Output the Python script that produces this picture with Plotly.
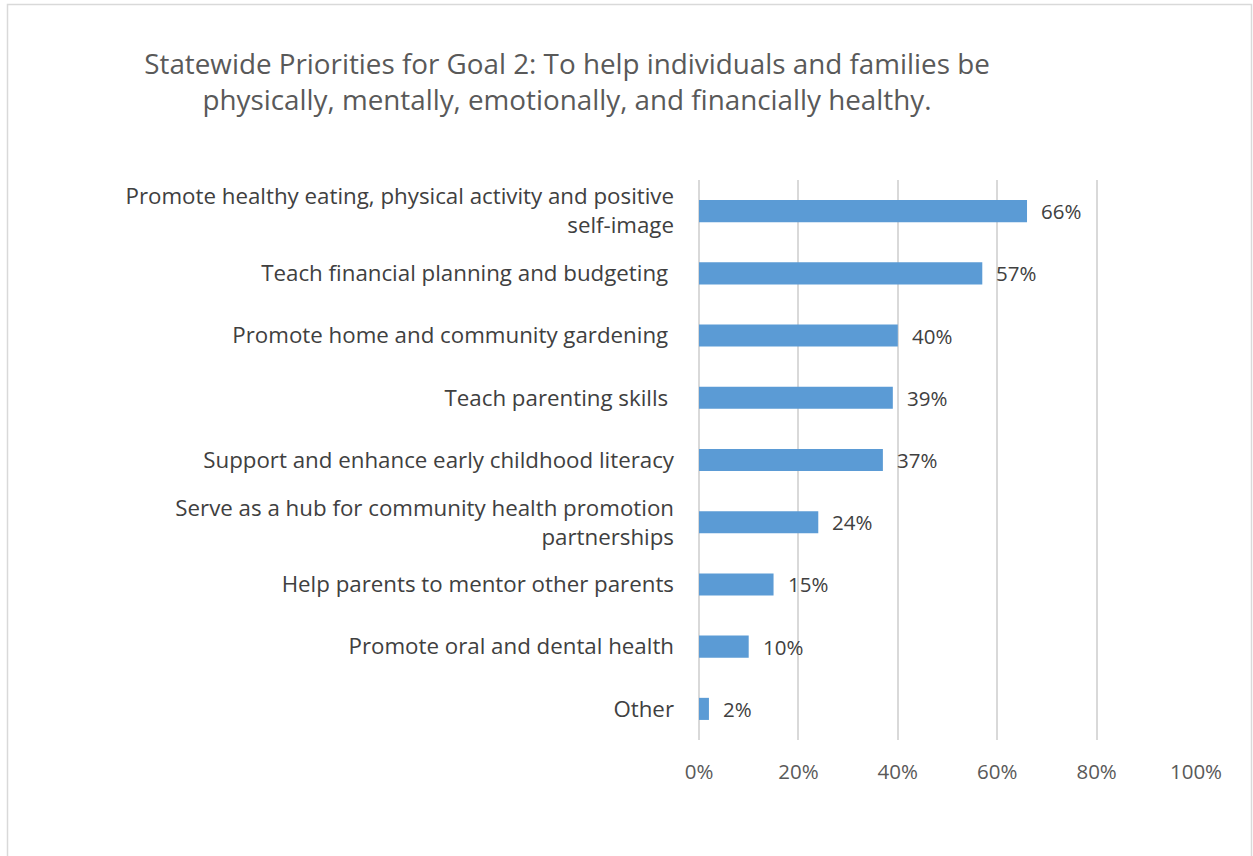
import plotly.graph_objects as go

# Survey responses, top to bottom
categories = [
    "Promote healthy eating, physical activity and positive<br>self-image",
    "Teach financial planning and budgeting\u00a0",
    "Promote home and community gardening\u00a0",
    "Teach parenting skills\u00a0",
    "Support and enhance early childhood literacy",
    "Serve as a hub for community health promotion<br>partnerships",
    "Help parents to mentor other parents",
    "Promote oral and dental health",
    "Other",
]
shares = [66, 57, 40, 39, 37, 24, 15, 10, 2]
x_ticks = [0, 20, 40, 60, 80, 100]
x_tick_labels = ["0%", "20%", "40%", "60%", "80%", "100%"]

W, H = 1253, 856
L, R, T, B = 699, 57, 180, 116
pw, ph = W - L - R, H - T - B

FONT = "Open Sans"
BAR = "#5B9BD5"
TXT = "#404040"
AX = "#595959"
GRID = "#D9D9D9"

fig = go.Figure(
    go.Bar(
        x=shares,
        y=categories,
        orientation="h",
        marker=dict(color=BAR, line=dict(width=0)),
        width=0.355,
        hoverinfo="skip",
    )
)

# value labels just past each bar end
for c, v in zip(categories, shares):
    fig.add_annotation(
        x=v, y=c, text=f"{v}%", showarrow=False,
        xanchor="left", yanchor="middle", xshift=12, yshift=0,
        font=dict(family=FONT, size=20.5, color=TXT),
    )

# outer chart border
def px_to_paper_x(px):
    return (px - L) / pw

def px_to_paper_y(py):
    return (H - B - py) / ph

fig.add_shape(
    type="rect", xref="paper", yref="paper",
    x0=px_to_paper_x(7.5), x1=px_to_paper_x(1251.5),
    y0=px_to_paper_y(870), y1=px_to_paper_y(4.5),
    line=dict(color=GRID, width=1.5), fillcolor="rgba(0,0,0,0)", layer="below",
)

fig.update_layout(
    width=W, height=H,
    margin=dict(l=L, r=R, t=T, b=B, pad=0),
    paper_bgcolor="white", plot_bgcolor="white",
    showlegend=False,
    title=dict(
        text="Statewide Priorities for Goal 2: To help individuals and families be<br>"
             "physically, mentally, emotionally, and financially healthy.",
        x=567 / W, xanchor="center", xref="container",
        y=1 - 74 / H, yanchor="top", yref="container",
        font=dict(family=FONT, size=27.8, color=AX),
    ),
    xaxis=dict(
        range=[0, 100], tickvals=x_ticks, ticktext=x_tick_labels,
        showgrid=True, gridcolor=GRID, gridwidth=1.5,
        zeroline=True, zerolinecolor=GRID, zerolinewidth=1.5,
        showline=False, ticks="", ticklabelstandoff=17,
        tickfont=dict(family=FONT, size=20.5, color=AX),
        fixedrange=True,
    ),
    yaxis=dict(
        autorange="reversed", showgrid=False, zeroline=False, showline=False,
        ticks="", ticklabelstandoff=24,
        tickfont=dict(family=FONT, size=22.3, color=TXT),
        fixedrange=True,
    ),
)

fig.write_html("out.html")
